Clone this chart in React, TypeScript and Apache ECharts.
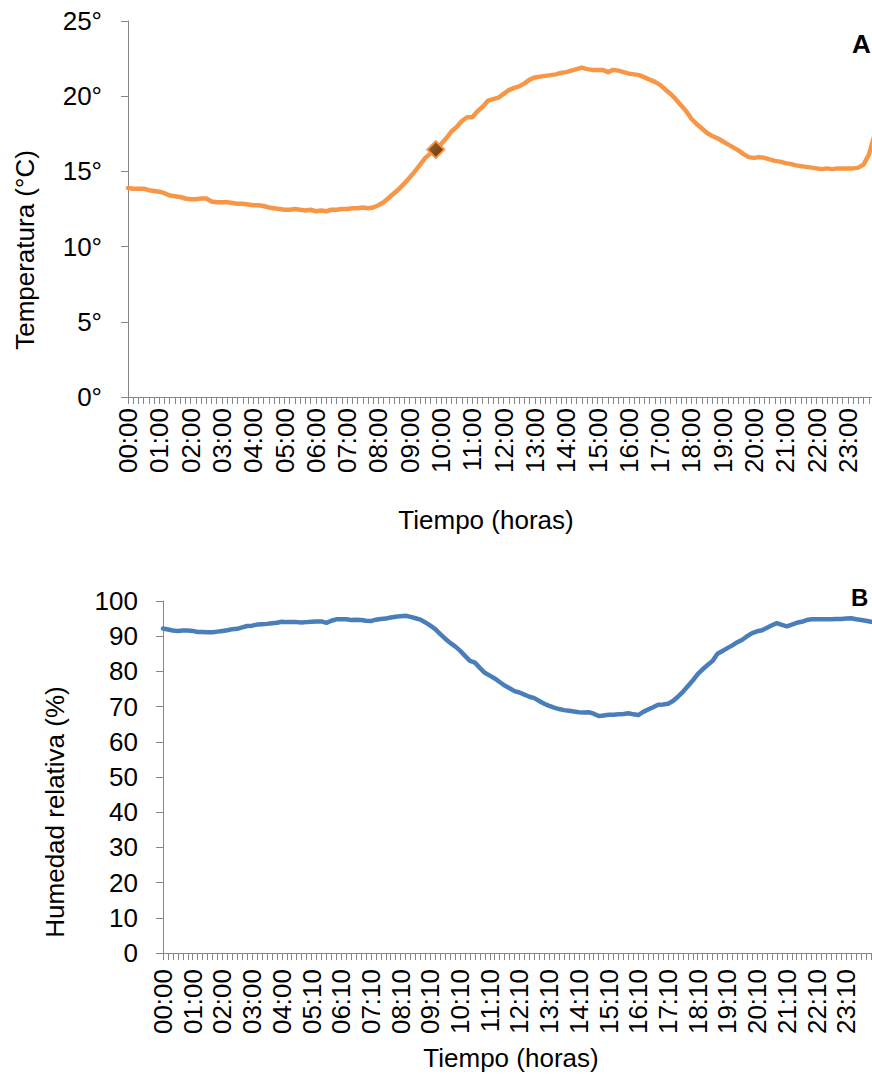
import React, { useEffect, useRef } from "react";
import * as echarts from "echarts";

// ---- Data ----
const hhmm = (m: number) =>
  `${String(Math.floor(m / 60) % 24).padStart(2, "0")}:${String(m % 60).padStart(2, "0")}`;

// Panel A categories: every 10 minutes over 24 h
const tempTimes: string[] = Array.from({ length: 144 }, (_, i) => hhmm(i * 10));
// Panel B categories: every 10 minutes, one reading (04:30) missing
const humTimes: string[] = Array.from({ length: 145 }, (_, i) => hhmm(i * 10)).filter((t) => t !== "04:30");

const temperature: number[] = [
  13.9, 13.85, 13.85, 13.85, 13.75, 13.7,
  13.65, 13.55, 13.4, 13.35, 13.3, 13.2,
  13.15, 13.15, 13.2, 13.2, 13.0, 12.95,
  12.95, 12.95, 12.9, 12.85, 12.85, 12.8,
  12.75, 12.75, 12.7, 12.6, 12.55, 12.5,
  12.45, 12.45, 12.5, 12.45, 12.4, 12.45,
  12.35, 12.4, 12.35, 12.45, 12.45, 12.5,
  12.5, 12.55, 12.55, 12.6, 12.55, 12.6,
  12.75, 12.95, 13.25, 13.55, 13.85, 14.2,
  14.6, 15.0, 15.45, 15.9, 16.2, 16.45,
  16.8, 17.2, 17.65, 17.95, 18.35, 18.6,
  18.6, 19.0, 19.3, 19.7, 19.8, 19.9,
  20.15, 20.4, 20.55, 20.65, 20.85, 21.1,
  21.25, 21.3, 21.35, 21.4, 21.45, 21.55,
  21.6, 21.7, 21.8, 21.9, 21.8, 21.75,
  21.75, 21.75, 21.6, 21.75, 21.7, 21.6,
  21.5, 21.45, 21.4, 21.25, 21.1, 20.95,
  20.75, 20.45, 20.15, 19.8, 19.4, 19.0,
  18.5, 18.15, 17.85, 17.55, 17.35, 17.2,
  17.0, 16.8, 16.6, 16.4, 16.15, 15.95,
  15.9, 15.95, 15.9, 15.8, 15.7, 15.65,
  15.55, 15.5, 15.4, 15.35, 15.3, 15.25,
  15.2, 15.15, 15.2, 15.15, 15.2, 15.2,
  15.2, 15.2, 15.25, 15.45, 16.1, 17.3,
];

const humidity: number[] = [
  92.2, 91.9, 91.6, 91.5, 91.6, 91.6,
  91.5, 91.2, 91.2, 91.1, 91.1, 91.3,
  91.5, 91.7, 92.0, 92.1, 92.5, 92.9,
  93.0, 93.3, 93.4, 93.5, 93.7, 93.8,
  94.1, 94.0, 94.0, 94.0, 93.9, 94.0,
  94.1, 94.2, 94.2, 93.8, 94.4, 94.8,
  94.8, 94.8, 94.6, 94.7, 94.6, 94.4,
  94.3, 94.7, 94.9, 95.0, 95.3, 95.5,
  95.7, 95.8, 95.5, 95.1, 94.7, 93.9,
  93.0, 92.0, 90.6, 89.3, 88.1, 87.1,
  85.9, 84.4, 83.0, 82.5, 81.0, 79.6,
  78.8, 78.0, 77.0, 76.0, 75.2, 74.4,
  74.0, 73.4, 72.8, 72.4, 71.6, 70.8,
  70.2, 69.7, 69.3, 69.0, 68.8, 68.6,
  68.4, 68.3, 68.4, 68.0, 67.3, 67.5,
  67.7, 67.7, 67.8, 67.9, 68.1, 67.8,
  67.6, 68.5, 69.2, 69.8, 70.5, 70.6,
  70.8, 71.6, 72.8, 74.2, 75.8, 77.4,
  79.2, 80.6, 81.8, 83.0, 85.0, 85.8,
  86.6, 87.4, 88.3, 89.0, 90.0, 90.9,
  91.4, 91.7, 92.4, 93.1, 93.7, 93.2,
  92.8, 93.3, 93.8, 94.1, 94.6, 94.8,
  94.8, 94.8, 94.8, 94.8, 94.9, 94.9,
  95.0, 95.1, 94.8, 94.6, 94.4, 94.1,
];

const tempMarkerTime = "09:50";
const tempTicks = { min: 0, max: 25, interval: 5 };
const humTicks = { min: 0, max: 100, interval: 10 };
const labelEvery = 6;

const FONT = "'Liberation Sans', Arial, Helvetica, sans-serif";
const AXIS_GRAY = "#868686";

export default function App() {
  const ref = useRef<HTMLDivElement>(null);

  useEffect(() => {
    if (!ref.current) return;
    const chart = echarts.init(ref.current, undefined, { renderer: "svg" });

    const markerIdx = tempTimes.indexOf(tempMarkerTime);

    const xAxisCommon = (margin: number) => ({
      type: "category" as const,
      boundaryGap: false,
      axisLine: { lineStyle: { color: AXIS_GRAY, width: 1 } },
      axisTick: { show: true, interval: 0, length: 7, inside: false, lineStyle: { color: AXIS_GRAY } },
      axisLabel: {
        interval: (index: number) => index % labelEvery === 0,
        rotate: 90,
        margin,
        fontSize: 26,
        fontFamily: FONT,
        color: "#000",
      },
      splitLine: { show: false },
    });

    const yAxisCommon = {
      type: "value" as const,
      axisLine: { show: true, lineStyle: { color: AXIS_GRAY, width: 1 } },
      axisTick: { show: true, length: 7, lineStyle: { color: AXIS_GRAY } },
      splitLine: { show: false },
    };

    const textStyle = (extra: any) => ({
      fontSize: 26,
      fontFamily: FONT,
      fill: "#000",
      ...extra,
    });

    chart.setOption({
      animation: false,
      backgroundColor: "#fff",
      grid: [
        { left: 128, top: 21, height: 376, right: 2 },
        { left: 163, top: 601, height: 352, right: 5 },
      ],
      xAxis: [
        { ...xAxisCommon(11), gridIndex: 0, data: tempTimes },
        { ...xAxisCommon(16), gridIndex: 1, data: humTimes },
      ],
      yAxis: [
        {
          ...yAxisCommon,
          gridIndex: 0,
          ...tempTicks,
          axisLabel: { formatter: "{value}°", margin: 26, fontSize: 26, fontFamily: FONT, color: "#000" },
        },
        {
          ...yAxisCommon,
          gridIndex: 1,
          ...humTicks,
          axisLabel: { margin: 25, fontSize: 26, fontFamily: FONT, color: "#000" },
        },
      ],
      series: [
        {
          type: "line",
          xAxisIndex: 0,
          yAxisIndex: 0,
          data: temperature,
          showSymbol: false,
          symbol: "none",
          lineStyle: { color: "#F79646", width: 4.5, join: "round", cap: "round" },
          clip: false,
        },
        {
          type: "scatter",
          xAxisIndex: 0,
          yAxisIndex: 0,
          data: [[tempMarkerTime, temperature[markerIdx]]],
          symbol: "diamond",
          symbolSize: 17,
          itemStyle: {
            color: new echarts.graphic.LinearGradient(0, 0, 1, 1, [
              { offset: 0, color: "#A8662A" },
              { offset: 1, color: "#5E3410" },
            ]),
            borderColor: "#F79646",
            borderWidth: 2,
            opacity: 1,
          },
          z: 5,
        },
        {
          type: "line",
          xAxisIndex: 1,
          yAxisIndex: 1,
          data: humidity,
          showSymbol: false,
          symbol: "none",
          lineStyle: { color: "#4A7EBB", width: 4.5, join: "round", cap: "round" },
          clip: false,
        },
      ],
      graphic: [
        {
          type: "text",
          x: 25,
          y: 250,
          rotation: Math.PI / 2,
          style: textStyle({ text: "Temperatura (°C)", textAlign: "center", textVerticalAlign: "middle", align: "center", verticalAlign: "middle" }),
        },
        {
          type: "text",
          x: 486,
          y: 520,
          style: textStyle({ text: "Tiempo (horas)", textAlign: "center", textVerticalAlign: "middle", align: "center", verticalAlign: "middle" }),
        },
        {
          type: "text",
          x: 55,
          y: 812,
          rotation: Math.PI / 2,
          style: textStyle({ text: "Humedad relativa (%)", textAlign: "center", textVerticalAlign: "middle", align: "center", verticalAlign: "middle" }),
        },
        {
          type: "text",
          x: 511,
          y: 1058,
          style: textStyle({ text: "Tiempo (horas)", textAlign: "center", textVerticalAlign: "middle", align: "center", verticalAlign: "middle" }),
        },
        {
          type: "text",
          x: 852,
          y: 44,
          style: textStyle({ text: "A", fontWeight: "bold", textAlign: "left", textVerticalAlign: "middle", align: "left", verticalAlign: "middle" }),
        },
        {
          type: "text",
          x: 851,
          y: 597,
          style: textStyle({ text: "B", fontWeight: "bold", fontSize: 24, textAlign: "left", textVerticalAlign: "middle", align: "left", verticalAlign: "middle" }),
        },
      ],
    });

    return () => chart.dispose();
  }, []);

  return (
    <div style={{ position: "fixed", left: 0, top: 0, width: 872, height: 1078, overflow: "hidden", background: "#fff" }}>
      <div ref={ref} style={{ width: 876, height: 1078 }} />
    </div>
  );
}
